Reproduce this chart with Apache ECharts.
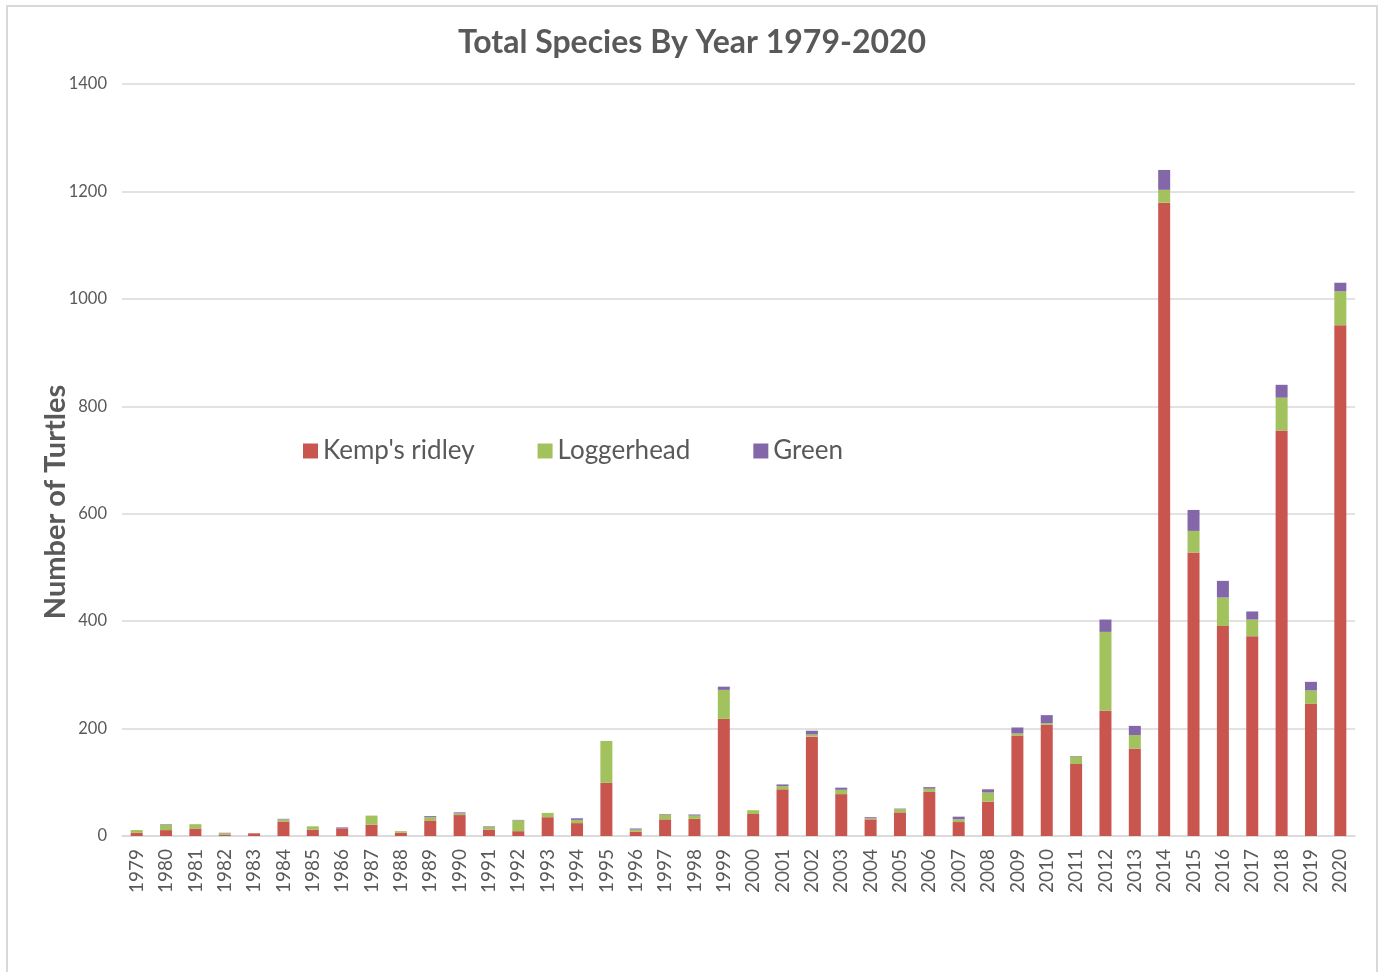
<!DOCTYPE html>
<html>
<head>
<meta charset="utf-8">
<title>Total Species By Year 1979-2020</title>
<script src="https://cdn.jsdelivr.net/npm/echarts@6/dist/echarts.min.js"></script>
<style>
  html, body { margin: 0; padding: 0; background: #fff; }
  #frame { position: absolute; left: 6px; top: 5px; width: 1372px; height: 980px;
           border-left: 2px solid #D9D9D9; border-top: 2px solid #D9D9D9; border-right: 2px solid #D9D9D9; box-sizing: border-box; }
  #chart { position: absolute; left: 0; top: 0; width: 1384px; height: 972px; }
</style>
</head>
<body>
<div id="frame"></div>
<div id="chart"></div>
<script>
// Sea turtle counts per year, by species
const years = ['1979','1980','1981','1982','1983','1984','1985','1986','1987','1988',
  '1989','1990','1991','1992','1993','1994','1995','1996','1997','1998',
  '1999','2000','2001','2002','2003','2004','2005','2006','2007','2008',
  '2009','2010','2011','2012','2013','2014','2015','2016','2017','2018','2019','2020'];

const kempsRidley = [6, 11, 14, 2, 5, 27, 12, 14, 21, 6,
  29, 39, 12, 9, 35, 24, 99, 8, 31, 32,
  218, 41, 87, 185, 78, 31, 44, 82, 26, 64,
  187, 207, 134, 233, 163, 1179, 528, 391, 372, 755, 246, 951];

const loggerhead = [5, 10, 8, 3, 0, 4, 6, 0, 17, 3,
  6, 3, 5, 20, 8, 6, 78, 4, 9, 6,
  54, 7, 6, 4, 8, 2, 6, 6, 5, 17,
  4, 3, 14, 147, 25, 24, 40, 53, 31, 61, 25, 63];

const green = [0, 1, 0, 1, 0, 1, 0, 2, 0, 0,
  2, 2, 1, 1, 0, 3, 0, 2, 1, 2,
  6, 0, 3, 7, 4, 2, 1, 3, 5, 6,
  11, 15, 1, 23, 17, 37, 39, 31, 15, 24, 16, 16];

const yTicks = { min: 0, max: 1400, step: 200 };

const textColor = '#595959';
const gridColor = '#D9D9D9';
const fontFamily = 'Lato, "Open Sans", sans-serif';

const chart = echarts.init(document.getElementById('chart'), null, { renderer: 'canvas' });

chart.setOption({
  backgroundColor: 'transparent',
  textStyle: { fontFamily: fontFamily },
  title: {
    text: 'Total Species By Year 1979-2020',
    left: 'center',
    top: 22,
    textStyle: { fontFamily: fontFamily, fontSize: 32, fontWeight: 'bold', color: textColor }
  },
  legend: {
    left: 303,
    top: 438,
    padding: 0,
    itemWidth: 15,
    itemHeight: 15,
    itemGap: 63,
    icon: 'rect',
    textStyle: { fontFamily: fontFamily, fontSize: 26, color: textColor }
  },
  grid: {
    left: 122,
    right: 29,
    top: 84,
    bottom: 136,
    containLabel: false,
    outerBoundsMode: 'none'
  },
  xAxis: {
    type: 'category',
    data: years,
    axisLine: { lineStyle: { color: gridColor, width: 1.5 } },
    axisTick: { show: false },
    axisLabel: {
      interval: 0,
      rotate: 90,
      margin: 13,
      fontSize: 19,
      color: textColor,
      fontFamily: fontFamily
    }
  },
  yAxis: {
    type: 'value',
    min: yTicks.min,
    max: yTicks.max,
    interval: yTicks.step,
    name: 'Number of Turtles',
    nameLocation: 'middle',
    nameGap: 52,
    nameMoveOverlap: false,
    nameTextStyle: {
      fontFamily: fontFamily,
      fontSize: 29,
      fontWeight: 'bold',
      color: textColor,
      padding: [0, 84, 0, 0]
    },
    axisLine: { show: false },
    axisTick: { show: false },
    axisLabel: {
      fontSize: 16.5,
      color: textColor,
      margin: 15,
      fontFamily: fontFamily,
      formatter: (v) => String(v)
    },
    splitLine: { lineStyle: { color: gridColor, width: 1.5 } }
  },
  series: [
    { name: "Kemp's ridley", type: 'bar', stack: 'total', barWidth: 12, data: kempsRidley,
      itemStyle: { color: '#C9554F' } },
    { name: 'Loggerhead', type: 'bar', stack: 'total', barWidth: 12, data: loggerhead,
      itemStyle: { color: '#A2C25E' } },
    { name: 'Green', type: 'bar', stack: 'total', barWidth: 12, data: green,
      itemStyle: { color: '#8467A8' } }
  ]
});
</script>
</body>
</html>
